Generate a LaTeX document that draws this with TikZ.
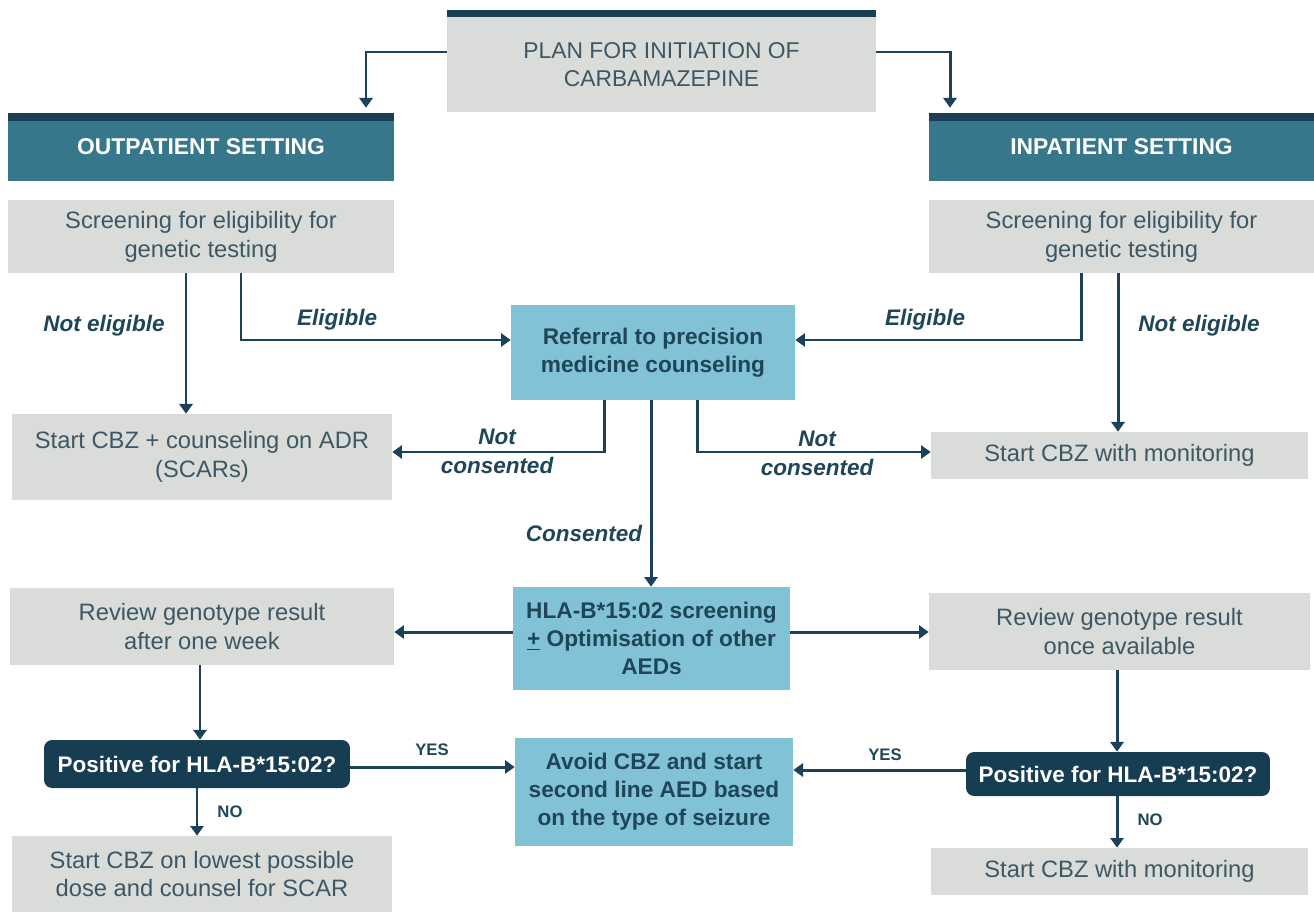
\documentclass[tikz,border=0pt]{standalone}
\usepackage{fontspec}
\setmainfont{Liberation Sans}
\usetikzlibrary{arrows.meta,calc}
\definecolor{gbox}{HTML}{D9DCD8}
\definecolor{gtext}{HTML}{3D5764}
\definecolor{tealh}{HTML}{36778B}
\definecolor{dbar}{HTML}{1A3F54}
\definecolor{lblue}{HTML}{82C2D6}
\definecolor{btext}{HTML}{1F4658}
\definecolor{decf}{HTML}{173D53}
\definecolor{arrc}{HTML}{1B4259}
\begin{document}
\begin{tikzpicture}[x=0.02cm,y=-0.02cm,
  box/.style={inner sep=0pt,align=center,draw=none},
  gray/.style={box,fill=gbox,text=gtext,font=\fontsize{13.5}{16.4}\selectfont},
  blue/.style={box,fill=lblue,text=btext,font=\bfseries\fontsize{12.9}{15.9}\selectfont},
  head/.style={box,fill=tealh,text=white,font=\bfseries\fontsize{13}{15}\selectfont},
  dec/.style={box,fill=decf,text=white,rounded corners=0.16cm,font=\bfseries\fontsize{12.8}{15}\selectfont},
  lab/.style={inner sep=0pt,align=center,text=btext,font=\bfseries\itshape\fontsize{12.8}{16.5}\selectfont},
  yn/.style={inner sep=0pt,text=btext,font=\bfseries\fontsize{9.5}{11}\selectfont},
  arr/.style={draw=arrc,line width=1.7pt,-{Triangle[width=7.5pt,length=5.5pt]}},
  ln/.style={draw=arrc,line width=1.7pt}
]
\useasboundingbox (0,0) rectangle (1314,912);

% top
\node[gray,font=\fontsize{13}{16}\selectfont,minimum width=8.58cm,minimum height=1.90cm] (plan) at (661.5,64.5) {PLAN FOR INITIATION OF\\CARBAMAZEPINE};
\fill[dbar] (plan.north west) rectangle ([yshift=0.14cm]plan.north east);

% headers
\node[head,minimum width=7.72cm,minimum height=1.36cm] (out) at (201,147) {OUTPATIENT SETTING};
\fill[dbar] (out.north west) rectangle ([yshift=-0.16cm]out.north east);
\node[head,minimum width=7.70cm,minimum height=1.36cm] (inp) at (1121.5,147) {INPATIENT SETTING};
\fill[dbar] (inp.north west) rectangle ([yshift=-0.16cm]inp.north east);

% screening
\node[gray,minimum width=7.72cm,minimum height=1.46cm] (scrL) at (201,236.5) {Screening for eligibility for\\genetic testing};
\node[gray,minimum width=7.70cm,minimum height=1.46cm] (scrR) at (1121.5,236.5) {Screening for eligibility for\\genetic testing};

% referral
\node[blue,minimum width=5.68cm,minimum height=1.90cm] (ref) at (653,352.5) {Referral to precision\\medicine counseling};

\node[gray,minimum width=7.60cm,minimum height=1.72cm] (cbzL) at (202,457) {Start CBZ + counseling on ADR\\(SCARs)};
\node[gray,minimum width=7.54cm,minimum height=0.94cm] (monR) at (1119.5,455.5) {Start CBZ with monitoring};

\node[blue,minimum width=5.54cm,minimum height=2.06cm] (hla) at (651.5,638.5) {HLA-B*15:02 screening\\\underline{+} Optimisation of other\\AEDs};
\node[gray,minimum width=7.68cm,minimum height=1.54cm] (revL) at (202,626.5) {Review genotype result\\after one week};
\node[gray,minimum width=7.62cm,minimum height=1.54cm] (revR) at (1119.5,631.5) {Review genotype result\\once available};

\node[dec,minimum width=6.12cm,minimum height=0.96cm] (posL) at (197,764) {Positive for HLA-B*15:02?};
\node[dec,minimum width=6.08cm,minimum height=0.88cm] (posR) at (1118,774) {Positive for HLA-B*15:02?};
\node[blue,minimum width=5.56cm,minimum height=2.16cm] (avoid) at (654,792) {Avoid CBZ and start\\second line AED based\\on the type of seizure};

\node[gray,minimum width=7.60cm,minimum height=1.52cm] (lowL) at (202,874) {Start CBZ on lowest possible\\dose and counsel for SCAR};
\node[gray,minimum width=7.54cm,minimum height=0.94cm] (monR2) at (1119.5,871.5) {Start CBZ with monitoring};

% connectors
\draw[arr,shorten >=0.1cm] (plan.west |- 0,52) -| (out.north -| 366,0);
\draw[arr,shorten >=0.1cm] (plan.east |- 0,52) -| (inp.north -| 950,0);

\draw[arr] (scrL.south -| 186,0) -- (cbzL.north -| 186,0);
\draw[arr] (scrL.south -| 241,0) |- (ref.west |- 0,340);
\draw[arr] (scrR.south -| 1081,0) |- (ref.east |- 0,340);
\draw[arr] (scrR.south -| 1118,0) -- (monR.north -| 1118,0);

\draw[arr] (ref.south -| 604,0) |- (cbzL.east |- 0,452);
\draw[arr] (ref.south -| 697,0) |- (monR.west |- 0,452);
\draw[arr] (ref.south -| 651,0) -- (hla.north -| 651,0);

\draw[arr] (hla.west |- 0,632) -- (revL.east |- 0,632);
\draw[arr] (hla.east |- 0,632) -- (revR.west |- 0,632);

\draw[arr] (revL.south -| 200,0) -- (posL.north -| 200,0);
\draw[arr] (revR.south -| 1117,0) -- (posR.north -| 1117,0);

\draw[arr] (posL.east |- 0,767) -- (avoid.west |- 0,767);
\draw[arr] (posR.west |- 0,770) -- (avoid.east |- 0,770);

\draw[arr] (posL.south -| 197,0) -- (lowL.north -| 197,0);
\draw[arr] (posR.south -| 1117,0) -- (monR2.north -| 1117,0);

% labels
\node[lab] (l1) at (104,326) {Not eligible};
\node[lab] (l2) at (337,320) {Eligible};
\node[lab] (l3) at (925,320) {Eligible};
\node[lab] (l4) at (1199,326) {Not eligible};
\node[lab] (l5) at (497,451) {Not\\consented};
\node[lab] (l6) at (817,453) {Not\\consented};
\node[lab] (l7) at (584,533) {Consented};
\node[yn] (y1) at (432,750) {YES};
\node[yn] (y2) at (885,755) {YES};
\node[yn] (n1) at (230,812) {NO};
\node[yn] (n2) at (1150,820) {NO};
\end{tikzpicture}
\end{document}
